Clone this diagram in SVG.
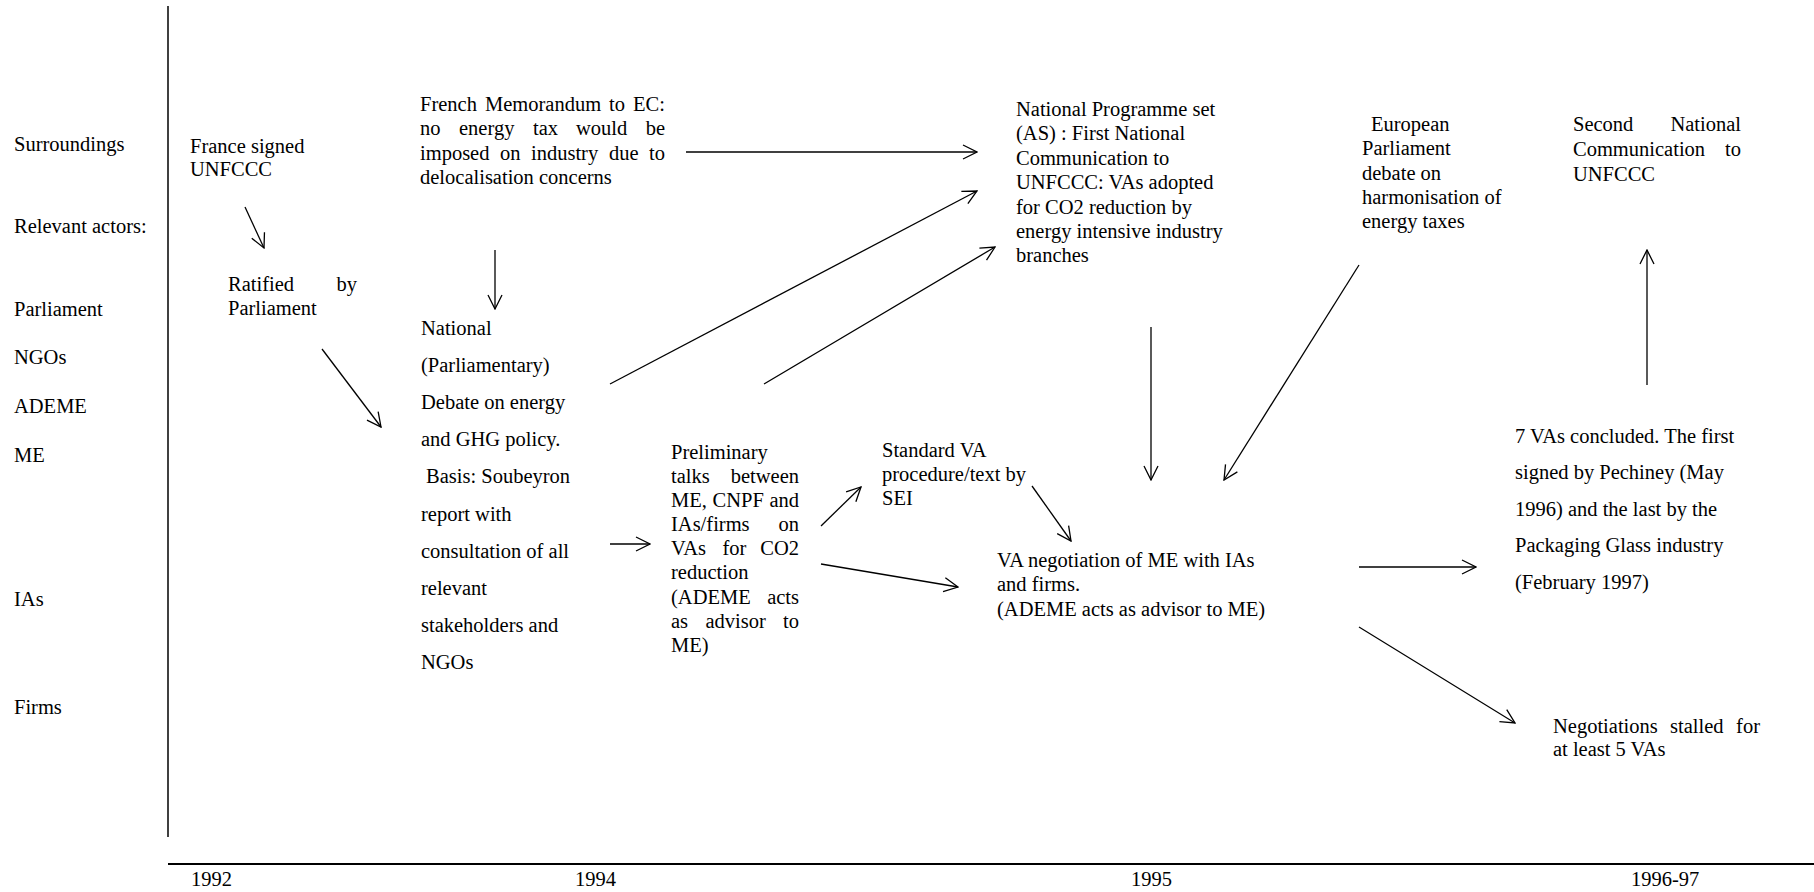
<svg xmlns="http://www.w3.org/2000/svg" width="1814" height="892" viewBox="0 0 1814 892">
<defs>
<style>
text{font-family:"Liberation Serif","Times New Roman",serif;font-size:20.5px;fill:#000}
.c{stroke:#000;stroke-width:1.3;fill:none;marker-end:url(#ah)}
.ax{stroke:#000;fill:none}
</style>
<marker id="ah" viewBox="0 0 16 16" refX="15" refY="8" markerWidth="16" markerHeight="16" orient="auto" markerUnits="userSpaceOnUse">
<path d="M1,1 L15,8 L1,15" fill="none" stroke="#000" stroke-width="1.3"/>
</marker>
</defs>
<rect width="1814" height="892" fill="#fff"/>
<g id="axes">
<line class="ax" x1="168" y1="6" x2="168" y2="837" stroke-width="1.5"/>
<line class="ax" x1="168" y1="864" x2="1814" y2="864" stroke-width="2"/>
</g>
<g id="row-labels">
<text x="14" y="151">Surroundings</text>
<text x="14" y="233">Relevant actors:</text>
<text x="14" y="316">Parliament</text>
<text x="14" y="364">NGOs</text>
<text x="14" y="413">ADEME</text>
<text x="14" y="462">ME</text>
<text x="14" y="606">IAs</text>
<text x="14" y="714">Firms</text>
</g>
<g id="years">
<text x="191" y="886">1992</text>
<text x="575" y="886">1994</text>
<text x="1131" y="886">1995</text>
<text x="1631" y="886">1996-97</text>
</g>
<g id="france-signed">
<text x="190" y="153">France signed</text>
<text x="190" y="176">UNFCCC</text>
</g>
<g id="ratified">
<text x="228" y="291">Ratified</text>
<text x="357" y="291" text-anchor="end">by</text>
<text x="228" y="315">Parliament</text>
</g>
<g id="memorandum">
<text y="111"><tspan x="420">French</tspan><tspan x="485">Memorandum</tspan><tspan x="609">to</tspan><tspan x="665" text-anchor="end">EC:</tspan></text>
<text y="135"><tspan x="420">no</tspan><tspan x="459">energy</tspan><tspan x="533">tax</tspan><tspan x="576">would</tspan><tspan x="665" text-anchor="end">be</tspan></text>
<text y="160"><tspan x="420">imposed</tspan><tspan x="500">on</tspan><tspan x="531">industry</tspan><tspan x="609">due</tspan><tspan x="665" text-anchor="end">to</tspan></text>
<text x="420" y="184">delocalisation concerns</text>
</g>
<g id="national-debate">
<text x="421" y="335">National</text>
<text x="421" y="372">(Parliamentary)</text>
<text x="421" y="409">Debate on energy</text>
<text x="421" y="446">and GHG policy.</text>
<text x="426" y="483">Basis: Soubeyron</text>
<text x="421" y="521">report with</text>
<text x="421" y="558">consultation of all</text>
<text x="421" y="595">relevant</text>
<text x="421" y="632">stakeholders and</text>
<text x="421" y="669">NGOs</text>
</g>
<g id="preliminary">
<text x="671" y="459">Preliminary</text>
<text y="483"><tspan x="671">talks</tspan><tspan x="799" text-anchor="end">between</tspan></text>
<text y="507"><tspan x="671">ME,</tspan><tspan x="712.6">CNPF</tspan><tspan x="799" text-anchor="end">and</tspan></text>
<text y="531"><tspan x="671">IAs/firms</tspan><tspan x="799" text-anchor="end">on</tspan></text>
<text y="555"><tspan x="671">VAs</tspan><tspan x="722.5">for</tspan><tspan x="799" text-anchor="end">CO2</tspan></text>
<text x="671" y="579">reduction</text>
<text y="604"><tspan x="671">(ADEME</tspan><tspan x="799" text-anchor="end">acts</tspan></text>
<text y="628"><tspan x="671">as</tspan><tspan x="705.5">advisor</tspan><tspan x="799" text-anchor="end">to</tspan></text>
<text x="671" y="652">ME)</text>
</g>
<g id="standard-va">
<text x="882" y="457">Standard VA</text>
<text x="882" y="481">procedure/text by</text>
<text x="882" y="505">SEI</text>
</g>
<g id="national-programme">
<text x="1016" y="116">National Programme set</text>
<text x="1016" y="140">(AS) : First National</text>
<text x="1016" y="165">Communication to</text>
<text x="1016" y="189">UNFCCC: VAs adopted</text>
<text x="1016" y="214">for CO2 reduction by</text>
<text x="1016" y="238">energy intensive industry</text>
<text x="1016" y="262">branches</text>
</g>
<g id="european-parliament">
<text x="1371" y="131">European</text>
<text x="1362" y="155">Parliament</text>
<text x="1362" y="180">debate on</text>
<text x="1362" y="204">harmonisation of</text>
<text x="1362" y="228">energy taxes</text>
</g>
<g id="second-communication">
<text y="131"><tspan x="1573">Second</tspan><tspan x="1741" text-anchor="end">National</tspan></text>
<text y="156"><tspan x="1573">Communication</tspan><tspan x="1741" text-anchor="end">to</tspan></text>
<text x="1573" y="181">UNFCCC</text>
</g>
<g id="va-negotiation">
<text x="997" y="567">VA negotiation of ME with IAs</text>
<text x="997" y="591">and firms.</text>
<text x="997" y="616">(ADEME acts as advisor to ME)</text>
</g>
<g id="vas-concluded">
<text x="1515" y="443">7 VAs concluded. The first</text>
<text x="1515" y="479">signed by Pechiney (May</text>
<text x="1515" y="516">1996) and the last by the</text>
<text x="1515" y="552">Packaging Glass industry</text>
<text x="1515" y="589">(February 1997)</text>
</g>
<g id="negotiations-stalled">
<text y="733"><tspan x="1553">Negotiations</tspan><tspan x="1670">stalled</tspan><tspan x="1760" text-anchor="end">for</tspan></text>
<text x="1553" y="756">at least 5 VAs</text>
</g>
<g id="connectors">
<line class="c" x1="245" y1="207" x2="264" y2="248"/>
<line class="c" x1="322" y1="349" x2="381" y2="427"/>
<line class="c" x1="495" y1="250" x2="495" y2="309"/>
<line class="c" x1="686" y1="152" x2="977" y2="152"/>
<line class="c" x1="610" y1="384" x2="977" y2="191"/>
<line class="c" x1="764" y1="384" x2="995" y2="247"/>
<line class="c" x1="610" y1="544" x2="650" y2="544"/>
<line class="c" x1="821" y1="526" x2="861" y2="487"/>
<line class="c" x1="821" y1="564" x2="958" y2="587"/>
<line class="c" x1="1032" y1="486" x2="1071" y2="541"/>
<line class="c" x1="1151" y1="327" x2="1151" y2="480"/>
<line class="c" x1="1359" y1="265" x2="1224" y2="480"/>
<line class="c" x1="1359" y1="567" x2="1476" y2="567"/>
<line class="c" x1="1359" y1="627" x2="1515" y2="723"/>
<line class="c" x1="1647" y1="385" x2="1647" y2="250"/>
</g>
</svg>
